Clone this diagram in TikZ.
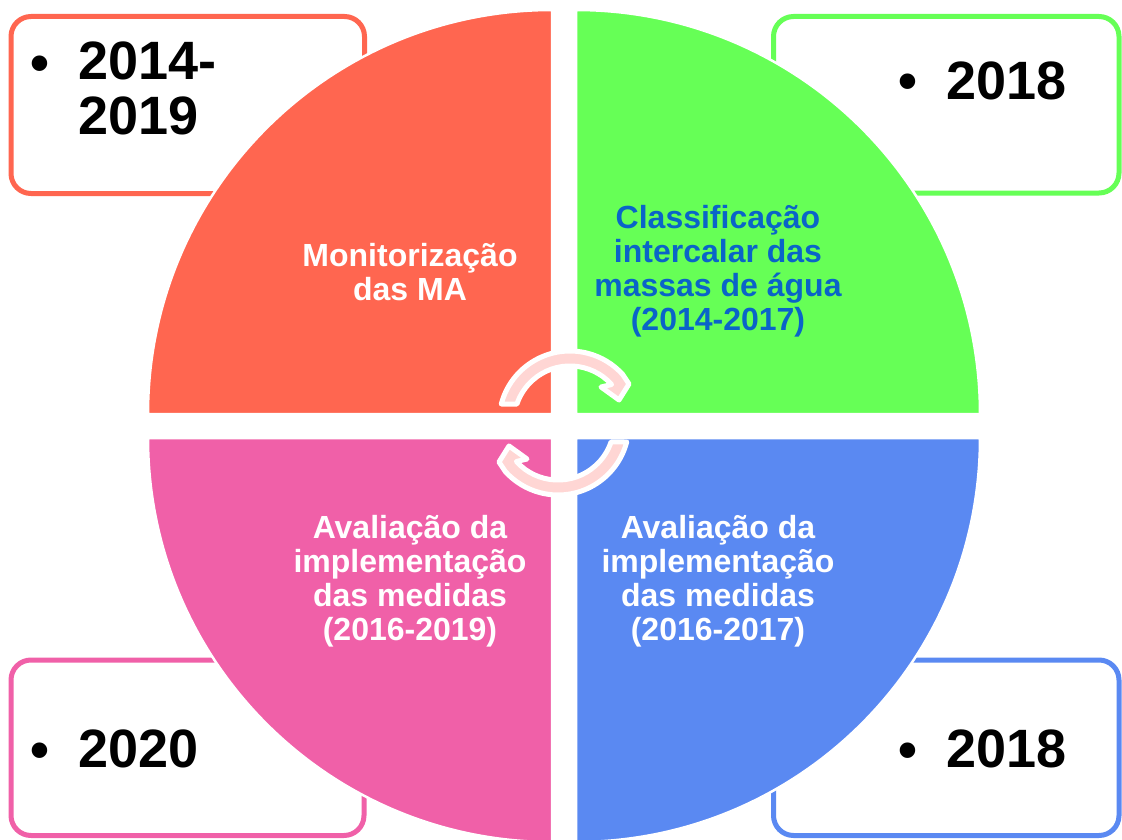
\documentclass[tikz,border=0pt]{standalone}
\usepackage{fontspec}
\setmainfont{Liberation Sans}
\definecolor{qred}{RGB}{255,102,80}
\definecolor{qgreen}{RGB}{102,255,86}
\definecolor{qpink}{RGB}{240,96,168}
\definecolor{qblue}{RGB}{90,137,242}
\definecolor{arrowpink}{RGB}{255,214,212}
\definecolor{textblue}{RGB}{10,100,200}
\begin{document}
\begin{tikzpicture}[x=1pt,y=-1pt,
  yearbox/.style={draw=#1, line width=5pt, rounded corners=20pt, fill=white},
  quad/.style={fill=#1, draw=white, line width=2.5pt},
  qtext/.style={text=white, font=\fontsize{32}{34}\selectfont\bfseries, align=center, inner sep=0pt},
  yeartext/.style={font=\fontsize{54}{55}\selectfont\bfseries, anchor=north west, inner sep=0pt, align=left},
  bul/.style={font=\fontsize{54}{55}\selectfont\bfseries, anchor=base, inner sep=0pt},
  cyc/.style={fill=arrowpink, draw=white, line width=5pt, line join=round}]
\useasboundingbox (0,0) rectangle (1122,840);
% year boxes
\draw[yearbox=qred]   (11,16.5)   rectangle (364.5,193.5);
\draw[yearbox=qgreen] (773.5,16.5) rectangle (1119,193);
\draw[yearbox=qpink]  (11,660)    rectangle (364,835.5);
\draw[yearbox=qblue]  (773.5,660) rectangle (1119,835.5);
% quadrants
\draw[quad=qred]   (552,414) -- (148,414) arc[start angle=180, end angle=270, radius=404] -- cycle;
\draw[quad=qgreen] (576,414) -- (576,10) arc[start angle=270, end angle=360, radius=404] -- cycle;
\draw[quad=qpink]  (552,438) -- (552,842) arc[start angle=90, end angle=180, radius=404] -- cycle;
\draw[quad=qblue]  (576,438) -- (980,438) arc[start angle=0, end angle=90, radius=404] -- cycle;
% quadrant texts
\node[qtext] (t1) at (410,272.5) {Monitorização\\das MA};
\node[qtext, text=textblue] (t2) at (718,271) {Classificação\\intercalar das\\massas de água\\(2014-2017)};
\node[qtext] (t3) at (410,581) {Avaliação da\\implementação\\das medidas\\(2016-2019)};
\node[qtext] (t4) at (718,581) {Avaliação da\\implementação\\das medidas\\(2016-2017)};
% year texts
\node[bul] (b1) at (40,82) {•};
\node[yeartext] (y1) at (78.5,42) {2014-\\2019};
\node[bul] (b2) at (908,100) {•};
\node[yeartext] (y2) at (946.5,62) {2018};
\node[bul] (b3) at (40,768) {•};
\node[yeartext] (y3) at (78.5,730) {2020};
\node[bul] (b4) at (908,768) {•};
\node[yeartext] (y4) at (946.5,730) {2018};
% circular arrows
\draw[cyc] (501.3,404) arc[start angle=194.7, end angle=318, radius=71]
  -- (629,384) -- (619,400) -- (601,387) -- (611.6,384.5)
  arc[start angle=318, end angle=198.7, radius=56] -- cycle;
\begin{scope}[rotate around={180:(564,423)}]
\draw[cyc] (501.3,404) arc[start angle=194.7, end angle=318, radius=71]
  -- (629,384) -- (619,400) -- (601,387) -- (611.6,384.5)
  arc[start angle=318, end angle=198.7, radius=56] -- cycle;
\end{scope}
\end{tikzpicture}
\end{document}
